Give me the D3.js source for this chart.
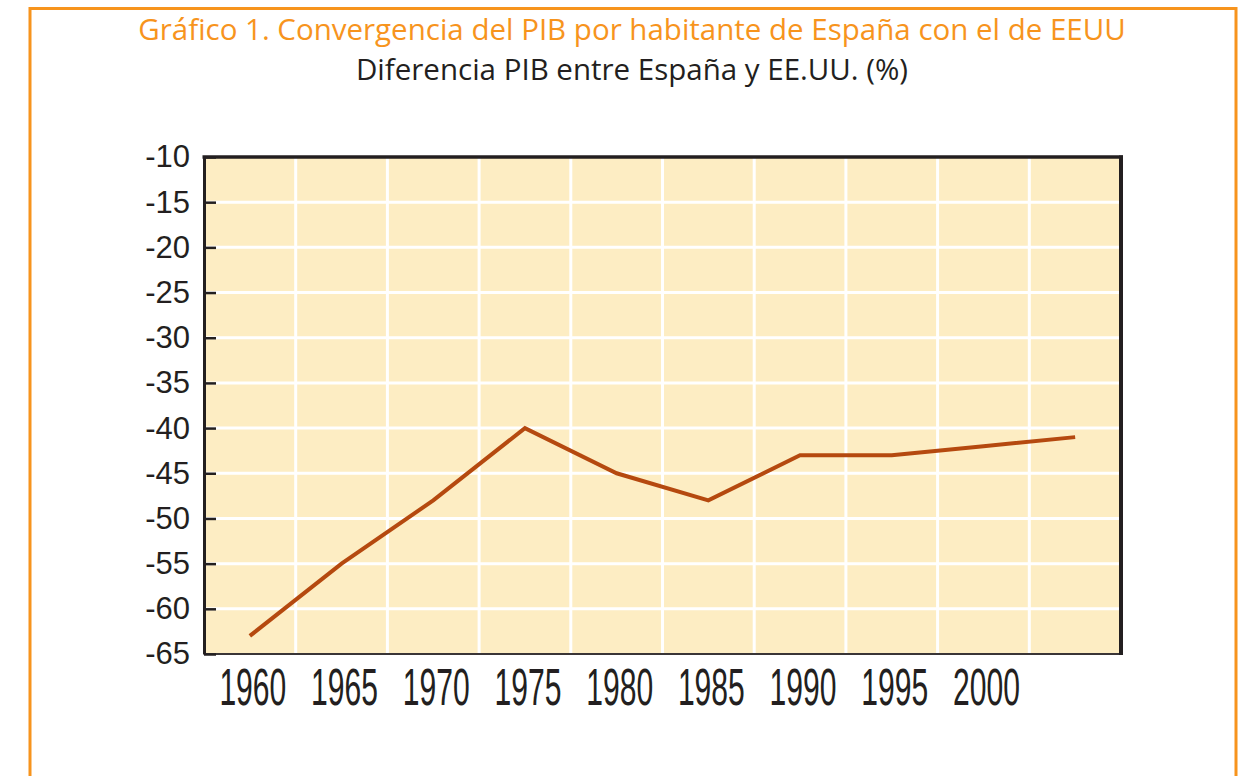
<!DOCTYPE html>
<html>
<head>
<meta charset="utf-8">
<script src="https://cdn.jsdelivr.net/npm/d3@7"></script>
<style>
  body { margin: 0; background: #fff; }
  svg { display: block; }
</style>
</head>
<body>
<svg id="chart"></svg>
<script>
// data
var years = [1960, 1965, 1970, 1975, 1980, 1985, 1990, 1995, 2000, 2005];
var tickLabels = ["1960", "1965", "1970", "1975", "1980", "1985", "1990", "1995", "2000", ""];
var diff = [-63, -55, -48, -40, -45, -48, -43, -43, -42, -41];
var yTicks = [-65, -60, -55, -50, -45, -40, -35, -30, -25, -20, -15, -10];

var W = 1246, H = 776;
var margin = {top: 157, right: 125, bottom: 122, left: 204},
    width = W - margin.left - margin.right,
    height = H - margin.top - margin.bottom;

var svg = d3.select("#chart").attr("width", W).attr("height", H);

// orange frame (bottom runs off the picture)
svg.append("path")
    .attr("d", "M30," + (H + 5) + "V8.5H1236V" + (H + 5))
    .attr("fill", "none")
    .attr("stroke", "#f7941d")
    .attr("stroke-width", 3);

svg.append("text")
    .attr("x", 632).attr("y", 40)
    .attr("text-anchor", "middle")
    .style("font-family", "'Open Sans', sans-serif")
    .style("font-size", "29.5px")
    .style("fill", "#f7941d")
    .text("Gráfico 1. Convergencia del PIB por habitante de España con el de EEUU");

svg.append("text")
    .attr("x", 632).attr("y", 80)
    .attr("text-anchor", "middle")
    .style("font-family", "'Open Sans', sans-serif")
    .style("font-size", "29.5px")
    .style("fill", "#231f20")
    .text("Diferencia PIB entre España y EE.UU. (%)");

var x = d3.scaleBand().domain(years).range([0, width]).paddingInner(0).paddingOuter(0);
var y = d3.scaleLinear().domain([-65, -10]).range([height, 0]);

var g = svg.append("g")
    .attr("transform", "translate(" + margin.left + "," + margin.top + ")");

g.append("rect")
    .attr("width", width).attr("height", height)
    .attr("fill", "#fdedc3");

// white grid
g.append("g").selectAll("line")
    .data(yTicks.filter(function(d){ return d > -65 && d < -10; }))
    .join("line")
    .attr("x1", 0).attr("x2", width)
    .attr("y1", function(d){ return y(d); }).attr("y2", function(d){ return y(d); })
    .attr("stroke", "#fff").attr("stroke-width", 3);

g.append("g").selectAll("line")
    .data(years.slice(1))
    .join("line")
    .attr("x1", function(d){ return x(d); }).attr("x2", function(d){ return x(d); })
    .attr("y1", 0).attr("y2", height)
    .attr("stroke", "#fff").attr("stroke-width", 3);

// the line
var line = d3.line()
    .x(function(d, i){ return x(years[i]) + x.bandwidth() / 2; })
    .y(function(d){ return y(d); });

g.append("path")
    .datum(diff)
    .attr("d", line)
    .attr("fill", "none")
    .attr("stroke", "#b5490f")
    .attr("stroke-width", 4)
    .attr("stroke-linejoin", "miter");

// frame of the plot
g.append("line").attr("x1", 0).attr("x2", width).attr("y1", height).attr("y2", height)
    .attr("stroke", "#3a3536").attr("stroke-width", 2);
g.append("line").attr("x1", -1.5).attr("x2", width + 2).attr("y1", 0).attr("y2", 0)
    .attr("stroke", "#231f20").attr("stroke-width", 3.5);
g.append("line").attr("x1", width).attr("x2", width).attr("y1", -1.5).attr("y2", height + 1)
    .attr("stroke", "#231f20").attr("stroke-width", 4);

// y axis
var yAxis = d3.axisLeft(y)
    .tickValues(yTicks)
    .tickFormat(d3.format("d"))
    .tickSizeInner(-12)
    .tickSizeOuter(0)
    .tickPadding(14);

var ya = g.append("g").call(yAxis);
ya.select(".domain").attr("stroke", "#231f20").attr("stroke-width", 3);
ya.selectAll(".tick line").attr("stroke", "#231f20").attr("stroke-width", 2.5);
ya.selectAll(".tick text")
    .style("font-family", "'Liberation Sans', Arial, sans-serif")
    .style("font-size", "31px")
    .style("fill", "#231f20")
    .text(function(d){ return d3.format("d")(d).replace("−", "-"); });

// x axis, condensed labels
var xAxis = d3.axisBottom(x)
    .tickSize(0)
    .tickPadding(0)
    .tickFormat(function(d, i){ return tickLabels[i]; });

var xa = g.append("g")
    .attr("transform", "translate(0," + height + ")")
    .call(xAxis);
xa.select(".domain").remove();
xa.selectAll(".tick text")
    .attr("y", 0).attr("dy", 0)
    .attr("transform", "translate(3,51) scale(0.59,1)")
    .style("font-family", "'Liberation Sans', Arial, sans-serif")
    .style("font-size", "51px")
    .style("fill", "#231f20");
</script>
</body>
</html>
